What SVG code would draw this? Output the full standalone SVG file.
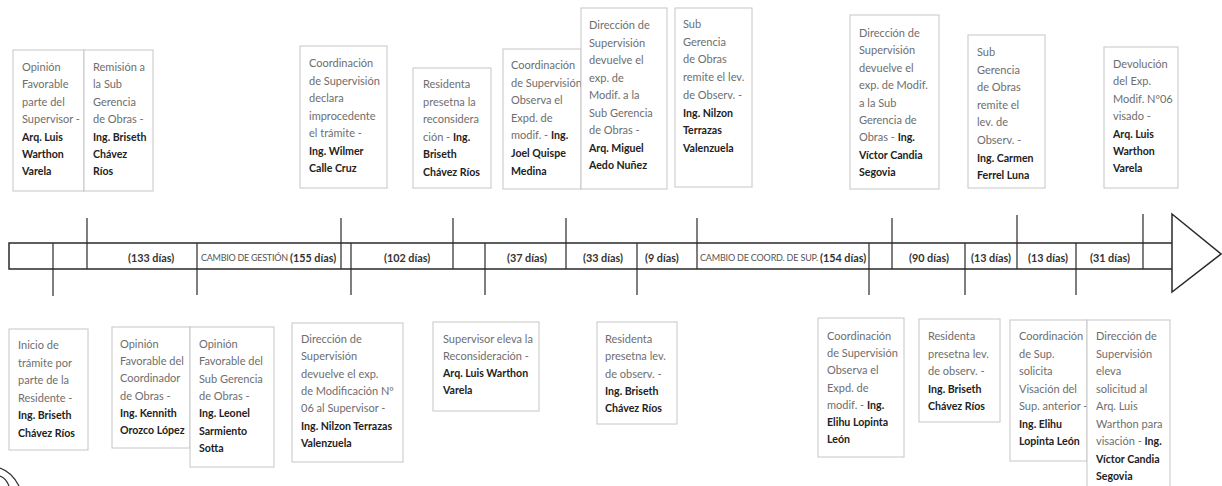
<svg xmlns="http://www.w3.org/2000/svg" width="1222" height="486" viewBox="0 0 1222 486">
<style>
text{font-family:"Lato","Open Sans","Liberation Sans",sans-serif;font-size:11px;fill:#6e6e6e}
.n{font-weight:700;fill:#222;font-size:10.6px}
rect.b{fill:#fff;stroke:#c6c6c6;stroke-width:1}
.l{stroke:#2a2a2a;stroke-width:1.2;fill:none}
.ax{stroke:#2a2a2a;stroke-width:1.5;fill:none}
.d{font-size:10.8px;font-weight:700;fill:#333}
.c{font-size:9px;fill:#555}
</style>
<rect width="1222" height="486" fill="#fff"/>
<g id="connectors">
<path class="ax" d="M1172 243H9V269H1172M1172 214L1221 254L1172 292Z"/>
<path class="l" d="M53 243V296M87 218V269M197 243V295M341 218V269M351 243V295M453 218V269M485 243V295M566 218V269M637 243V295M697 218V269M869 243V295M892 218V269M965 243V295M1017 215V269M1076 243V295M1143 214V269"/>
</g>
<g id="durations">
<text class="d" x="128" y="262">(133 días)</text>
<text class="c" x="201" y="261" textLength="87">CAMBIO DE GESTIÓN</text>
<text class="d" x="290" y="262">(155 días)</text>
<text class="d" x="384" y="262">(102 días)</text>
<text class="d" x="507" y="262">(37 días)</text>
<text class="d" x="583" y="262">(33 días)</text>
<text class="d" x="645" y="262">(9 días)</text>
<text class="c" x="700" y="261" textLength="118">CAMBIO DE COORD. DE SUP.</text>
<text class="d" x="820" y="262">(154 días)</text>
<text class="d" x="909" y="262">(90 días)</text>
<text class="d" x="971" y="262">(13 días)</text>
<text class="d" x="1028" y="262">(13 días)</text>
<text class="d" x="1090" y="262">(31 días)</text>
</g>
<g id="n1"><rect class="b" x="13" y="50" width="71" height="141"/><text y="71"><tspan x="22">Opinión</tspan><tspan x="22" dy="17.4">Favorable</tspan><tspan x="22" dy="17.4">parte del</tspan><tspan x="22" dy="17.4">Supervisor -</tspan><tspan x="22" dy="17.4" class="n">Arq. Luis</tspan><tspan x="22" dy="17.4" class="n">Warthon</tspan><tspan x="22" dy="17.4" class="n">Varela</tspan></text></g>
<g id="n2"><rect class="b" x="84" y="50" width="69" height="141"/><text y="71"><tspan x="93">Remisión a</tspan><tspan x="93" dy="17.4">la Sub</tspan><tspan x="93" dy="17.4">Gerencia</tspan><tspan x="93" dy="17.4">de Obras -</tspan><tspan x="93" dy="17.4" class="n">Ing. Briseth</tspan><tspan x="93" dy="17.4" class="n">Chávez</tspan><tspan x="93" dy="17.4" class="n">Ríos</tspan></text></g>
<g id="n3"><rect class="b" x="300" y="46" width="87" height="142"/><text y="67"><tspan x="309">Coordinación</tspan><tspan x="309" dy="17.5">de Supervisión</tspan><tspan x="309" dy="17.5">declara</tspan><tspan x="309" dy="17.5">improcedente</tspan><tspan x="309" dy="17.5">el trámite -</tspan><tspan x="309" dy="17.5" class="n">Ing. Wilmer</tspan><tspan x="309" dy="17.5" class="n">Calle Cruz</tspan></text></g>
<g id="n4"><rect class="b" x="413" y="68" width="78" height="120"/><text y="88"><tspan x="423">Residenta</tspan><tspan x="423" dy="17.6">presetna la</tspan><tspan x="423" dy="17.6">reconsidera</tspan><tspan x="423" dy="17.6">ción - <tspan class="n">Ing.</tspan></tspan><tspan x="423" dy="17.6" class="n">Briseth</tspan><tspan x="423" dy="17.6" class="n">Chávez Ríos</tspan></text></g>
<g id="n5"><rect class="b" x="503" y="49" width="78" height="140"/><text y="69"><tspan x="511">Coordinación</tspan><tspan x="511" dy="17.6">de Supervisión</tspan><tspan x="511" dy="17.6">Observa el</tspan><tspan x="511" dy="17.6">Expd. de</tspan><tspan x="511" dy="17.6">modif. - <tspan class="n">Ing.</tspan></tspan><tspan x="511" dy="17.6" class="n">Joel Quispe</tspan><tspan x="511" dy="17.6" class="n">Medina</tspan></text></g>
<g id="n6"><rect class="b" x="581" y="8" width="86" height="181"/><text y="29"><tspan x="589">Dirección de</tspan><tspan x="589" dy="17.5">Supervisión</tspan><tspan x="589" dy="17.5">devuelve el</tspan><tspan x="589" dy="17.5">exp. de</tspan><tspan x="589" dy="17.5">Modif. a la</tspan><tspan x="589" dy="17.5">Sub Gerencia</tspan><tspan x="589" dy="17.5">de Obras -</tspan><tspan x="589" dy="17.5" class="n">Arq. Miguel</tspan><tspan x="589" dy="17.5" class="n">Aedo Nuñez</tspan></text></g>
<g id="n7"><rect class="b" x="675" y="8" width="77" height="179"/><text y="28"><tspan x="683">Sub</tspan><tspan x="683" dy="17.7">Gerencia</tspan><tspan x="683" dy="17.7">de Obras</tspan><tspan x="683" dy="17.7">remite el lev.</tspan><tspan x="683" dy="17.7">de Observ. -</tspan><tspan x="683" dy="17.7" class="n">Ing. Nilzon</tspan><tspan x="683" dy="17.7" class="n">Terrazas</tspan><tspan x="683" dy="17.7" class="n">Valenzuela</tspan></text></g>
<g id="n8"><rect class="b" x="850" y="15" width="89" height="174"/><text y="37"><tspan x="859">Dirección de</tspan><tspan x="859" dy="17.4">Supervisión</tspan><tspan x="859" dy="17.4">devuelve el</tspan><tspan x="859" dy="17.4">exp. de Modif.</tspan><tspan x="859" dy="17.4">a la Sub</tspan><tspan x="859" dy="17.4">Gerencia de</tspan><tspan x="859" dy="17.4">Obras - <tspan class="n">Ing.</tspan></tspan><tspan x="859" dy="17.4" class="n">Víctor Candia</tspan><tspan x="859" dy="17.4" class="n">Segovia</tspan></text></g>
<g id="n9"><rect class="b" x="968" y="35" width="77" height="153"/><text y="56"><tspan x="977">Sub</tspan><tspan x="977" dy="17.6">Gerencia</tspan><tspan x="977" dy="17.6">de Obras</tspan><tspan x="977" dy="17.6">remite el</tspan><tspan x="977" dy="17.6">lev. de</tspan><tspan x="977" dy="17.6">Observ. -</tspan><tspan x="977" dy="17.6" class="n">Ing. Carmen</tspan><tspan x="977" dy="17.6" class="n">Ferrel Luna</tspan></text></g>
<g id="n10"><rect class="b" x="1104" y="47" width="74" height="141"/><text y="68"><tspan x="1113">Devolución</tspan><tspan x="1113" dy="17.4">del Exp.</tspan><tspan x="1113" dy="17.4">Modif. Nº06</tspan><tspan x="1113" dy="17.4">visado -</tspan><tspan x="1113" dy="17.4" class="n">Arq. Luis</tspan><tspan x="1113" dy="17.4" class="n">Warthon</tspan><tspan x="1113" dy="17.4" class="n">Varela</tspan></text></g>
<g id="b1"><rect class="b" x="9" y="329" width="79" height="121"/><text y="349"><tspan x="18">Inicio de</tspan><tspan x="18" dy="17.6">trámite por</tspan><tspan x="18" dy="17.6">parte de la</tspan><tspan x="18" dy="17.6">Residente -</tspan><tspan x="18" dy="17.6" class="n">Ing. Briseth</tspan><tspan x="18" dy="17.6" class="n">Chávez Ríos</tspan></text></g>
<g id="b2"><rect class="b" x="112" y="327" width="78" height="121"/><text y="348"><tspan x="120">Opinión</tspan><tspan x="120" dy="17.2">Favorable del</tspan><tspan x="120" dy="17.2">Coordinador</tspan><tspan x="120" dy="17.2">de Obras -</tspan><tspan x="120" dy="17.2" class="n">Ing. Kennith</tspan><tspan x="120" dy="17.2" class="n">Orozco López</tspan></text></g>
<g id="b3"><rect class="b" x="190" y="327" width="84" height="140"/><text y="348"><tspan x="199">Opinión</tspan><tspan x="199" dy="17.3">Favorable del</tspan><tspan x="199" dy="17.3">Sub Gerencia</tspan><tspan x="199" dy="17.3">de Obras -</tspan><tspan x="199" dy="17.3" class="n">Ing. Leonel</tspan><tspan x="199" dy="17.3" class="n">Sarmiento</tspan><tspan x="199" dy="17.3" class="n">Sotta</tspan></text></g>
<g id="b4"><rect class="b" x="292" y="323" width="111" height="139"/><text y="343"><tspan x="301">Dirección de</tspan><tspan x="301" dy="17.3">Supervisión</tspan><tspan x="301" dy="17.3">devuelve el exp.</tspan><tspan x="301" dy="17.3">de Modificación Nº</tspan><tspan x="301" dy="17.3">06 al Supervisor -</tspan><tspan x="301" dy="17.3" class="n">Ing. Nilzon Terrazas</tspan><tspan x="301" dy="17.3" class="n">Valenzuela</tspan></text></g>
<g id="b5"><rect class="b" x="433" y="322" width="106" height="89"/><text y="343"><tspan x="443">Supervisor eleva la</tspan><tspan x="443" dy="17">Reconsideración -</tspan><tspan x="443" dy="17" class="n">Arq. Luis Warthon</tspan><tspan x="443" dy="17" class="n">Varela</tspan></text></g>
<g id="b6"><rect class="b" x="597" y="322" width="80" height="102"/><text y="343"><tspan x="605">Residenta</tspan><tspan x="605" dy="17.3">presetna lev.</tspan><tspan x="605" dy="17.3">de observ. -</tspan><tspan x="605" dy="17.3" class="n">Ing. Briseth</tspan><tspan x="605" dy="17.3" class="n">Chávez Ríos</tspan></text></g>
<g id="b7"><rect class="b" x="818" y="318" width="86" height="139"/><text y="340"><tspan x="827">Coordinación</tspan><tspan x="827" dy="17.2">de Supervisión</tspan><tspan x="827" dy="17.2">Observa el</tspan><tspan x="827" dy="17.2">Expd. de</tspan><tspan x="827" dy="17.2">modif. - <tspan class="n">Ing.</tspan></tspan><tspan x="827" dy="17.2" class="n">Elihu Lopinta</tspan><tspan x="827" dy="17.2" class="n">León</tspan></text></g>
<g id="b8"><rect class="b" x="919" y="319" width="81" height="103"/><text y="340"><tspan x="928">Residenta</tspan><tspan x="928" dy="17.5">presetna lev.</tspan><tspan x="928" dy="17.5">de observ. -</tspan><tspan x="928" dy="17.5" class="n">Ing. Briseth</tspan><tspan x="928" dy="17.5" class="n">Chávez Ríos</tspan></text></g>
<g id="b9"><rect class="b" x="1010" y="320" width="77" height="141"/><text y="340"><tspan x="1019">Coordinación</tspan><tspan x="1019" dy="17.5">de Sup.</tspan><tspan x="1019" dy="17.5">solicita</tspan><tspan x="1019" dy="17.5">Visación del</tspan><tspan x="1019" dy="17.5">Sup. anterior -</tspan><tspan x="1019" dy="17.5" class="n">Ing. Elihu</tspan><tspan x="1019" dy="17.5" class="n">Lopinta León</tspan></text></g>
<g id="b10"><rect class="b" x="1087" y="320" width="83" height="170"/><text y="340"><tspan x="1096">Dirección de</tspan><tspan x="1096" dy="17.5">Supervisión</tspan><tspan x="1096" dy="17.5">eleva</tspan><tspan x="1096" dy="17.5">solicitud al</tspan><tspan x="1096" dy="17.5">Arq. Luis</tspan><tspan x="1096" dy="17.5">Warthon para</tspan><tspan x="1096" dy="17.5">visación - <tspan class="n">Ing.</tspan></tspan><tspan x="1096" dy="17.5" class="n">Víctor Candia</tspan><tspan x="1096" dy="17.5" class="n">Segovia</tspan></text></g>
<path d="M0 468Q12 472 19 486M0 476Q6 478 9 486" fill="none" stroke="#333" stroke-width="1.3"/>
</svg>
